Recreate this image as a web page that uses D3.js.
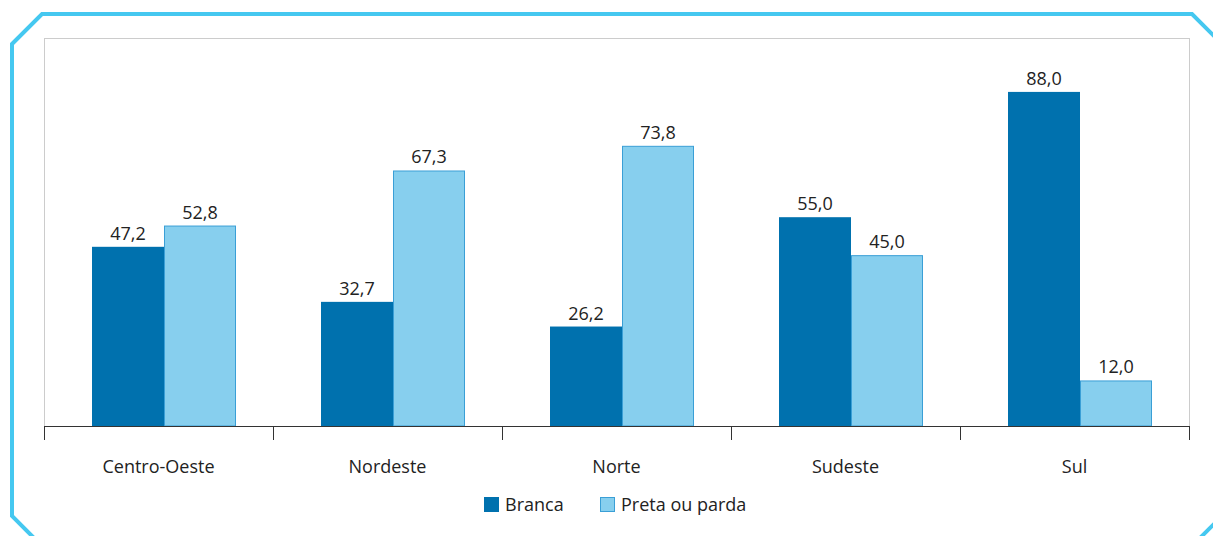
<!DOCTYPE html>
<html>
<head>
<meta charset="utf-8">
<script src="https://cdn.jsdelivr.net/npm/d3@7"></script>
<style>
  body { margin: 0; background: #fff; }
  svg { display: block; font-family: "Open Sans", "Noto Sans", sans-serif; }
</style>
</head>
<body>
<div id="chart"></div>
<script>
// regiões e valores (%)
var regioes = ["Centro-Oeste", "Nordeste", "Norte", "Sudeste", "Sul"];
var series = ["Branca", "Preta ou parda"];
var branca = [47.2, 32.7, 26.2, 55.0, 88.0];
var pretaParda = [52.8, 67.3, 73.8, 45.0, 12.0];
var cores = ["#0071ae", "#87cfee"];

var width = 1213, height = 536;
var svg = d3.select("#chart").append("svg")
  .attr("width", width)
  .attr("height", height);

// moldura azul com cantos cortados
var c = 30;
var fx0 = 12, fy0 = 14, fx1 = 1222, fy1 = 546;
svg.append("path")
  .attr("d", "M" + fx0 + "," + (fy0 + c) +
    "L" + (fx0 + c) + "," + fy0 +
    "L" + (fx1 - c) + "," + fy0 +
    "L" + fx1 + "," + (fy0 + c) +
    "L" + fx1 + "," + (fy1 - c) +
    "L" + (fx1 - c) + "," + fy1 +
    "L" + (fx0 + c) + "," + fy1 +
    "L" + fx0 + "," + (fy1 - c) + "Z")
  .attr("fill", "none")
  .attr("stroke", "#45c8f0")
  .attr("stroke-width", 4);

var plotL = 44, plotR = 1189, plotT = 38, base = 426;

svg.append("rect")
  .attr("x", plotL + 0.5).attr("y", plotT + 0.5)
  .attr("width", plotR - plotL).attr("height", base - plotT)
  .attr("fill", "none").attr("stroke", "#cccccc");

var x = d3.scaleBand().domain(regioes).range([plotL, plotR]).padding(0);
var y = d3.scaleLinear().domain([0, 102.2]).range([base, plotT]);
var barW = 72, offset = 48;

var dados = [];
regioes.forEach(function(r, i) {
  dados.push({ regiao: r, serie: 0, valor: branca[i] });
  dados.push({ regiao: r, serie: 1, valor: pretaParda[i] });
});

function bx(d) { return x(d.regiao) + offset + d.serie * barW; }

svg.selectAll(".bar")
  .data(dados)
  .enter().append("rect")
  .attr("class", "bar")
  .attr("x", function(d) { return bx(d) + (d.serie ? 0.5 : 0); })
  .attr("y", function(d) { return y(d.valor) + (d.serie ? 0.5 : 0); })
  .attr("width", function(d) { return d.serie ? barW - 1 : barW; })
  .attr("height", function(d) { return base - y(d.valor) - (d.serie ? 0.5 : 0); })
  .attr("fill", function(d) { return cores[d.serie]; })
  .attr("stroke", function(d) { return d.serie ? "#3a9fd6" : "none"; })
  .attr("stroke-width", 1);

svg.selectAll(".rotulo")
  .data(dados)
  .enter().append("text")
  .attr("class", "rotulo")
  .attr("x", function(d) { return bx(d) + barW / 2; })
  .attr("y", function(d) { return y(d.valor) - 7; })
  .attr("text-anchor", "middle")
  .attr("font-size", 18)
  .attr("fill", "#222")
  .text(function(d) { return d3.format(".1f")(d.valor).replace(".", ","); });

// eixo x
var eixo = svg.append("g").attr("transform", "translate(0," + base + ")");
eixo.append("line")
  .attr("x1", plotL).attr("x2", plotR + 1)
  .attr("y1", 0.5).attr("y2", 0.5)
  .attr("stroke", "#333");
var ticks = regioes.map(function(r) { return x(r); }).concat([plotR]);
eixo.selectAll(".tick")
  .data(ticks)
  .enter().append("line")
  .attr("x1", function(d) { return d + 0.5; })
  .attr("x2", function(d) { return d + 0.5; })
  .attr("y1", 0).attr("y2", 14)
  .attr("stroke", "#333");
eixo.selectAll(".cat")
  .data(regioes)
  .enter().append("text")
  .attr("x", function(d) { return x(d) + x.bandwidth() / 2; })
  .attr("y", 47)
  .attr("text-anchor", "middle")
  .attr("font-size", 18)
  .attr("fill", "#222")
  .text(function(d) { return d; });

// legenda
var legX = [484, 600];
var leg = svg.selectAll(".leg")
  .data(series)
  .enter().append("g")
  .attr("transform", function(d, i) { return "translate(" + legX[i] + ",497)"; });
leg.append("rect")
  .attr("x", 0.5).attr("y", 0.5)
  .attr("width", 14).attr("height", 14)
  .attr("fill", function(d, i) { return cores[i]; })
  .attr("stroke", function(d, i) { return i ? "#3a9fd6" : cores[i]; });
leg.append("text")
  .attr("x", 21).attr("y", 14)
  .attr("font-size", 18)
  .attr("fill", "#222")
  .text(function(d) { return d; });
</script>
</body>
</html>
